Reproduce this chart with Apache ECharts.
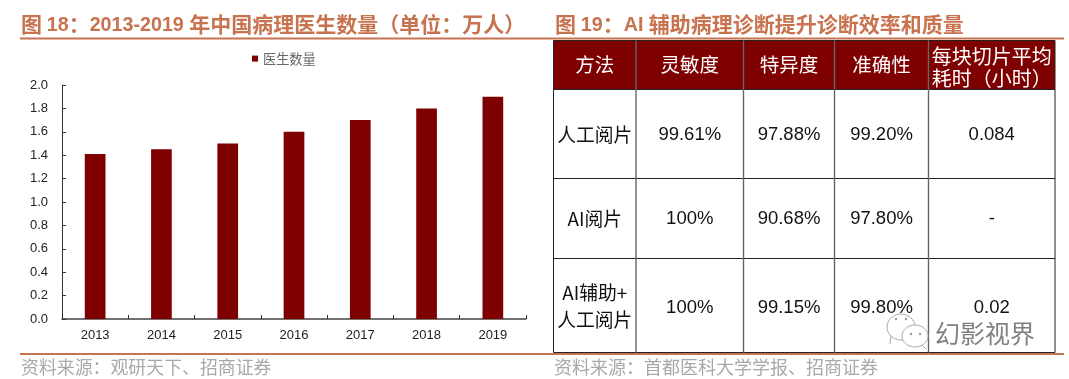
<!DOCTYPE html>
<html><head><meta charset="utf-8"><style>html,body{margin:0;padding:0;background:#fff}#c{width:1069px;height:379px}</style>
<script src="https://cdn.jsdelivr.net/npm/echarts@6/dist/echarts.min.js"></script></head>
<body><div id="c"></div><script>
const years=['2013','2014','2015','2016','2017','2018','2019'];
const doctors=[1.41,1.45,1.5,1.6,1.7,1.8,1.9];
const seriesName='医生数量';
const titleLeft='{c|图 }{l|18}{c|：}{l|2013-2019 }{c|年中国病理医生数量（单位：万人）}';
const titleRight='{c|图 }{l|19}{c|：}{l|AI }{c|辅助病理诊断提升诊断效率和质量}';
const sourceLeft='资料来源：观研天下、招商证券';
const sourceRight='资料来源：首都医科大学学报、招商证券';
const tableHeader=['方法','灵敏度','特异度','准确性','每块切片平均\n耗时（小时）'];
const tableRows=[
 ['人工阅片','99.61%','97.88%','99.20%','0.084'],
 ['AI阅片','100%','90.68%','97.80%','-'],
 ['AI辅助+\n人工阅片','100%','99.15%','99.80%','0.02']];
const colX=[553.5,636,743.5,834.5,928.5,1055];
const rowY=[40.5,89.5,178.5,258.5,352.5];
const CJK='"Noto Sans CJK SC","Liberation Sans",sans-serif';
const ORANGE='#c8734f',RED='#7f0000',GREY='#a8a8a8';
const g=[];
function line(x1,y1,x2,y2,stroke,w,z){g.push({type:'line',silent:true,z:z||5,shape:{x1,y1,x2,y2},style:{stroke,lineWidth:w}});}
function text(t,x,y,o){g.push({type:'text',silent:true,z:8,x,y,style:Object.assign({text:t,font:'15px '+CJK,fill:'#111',align:'center',verticalAlign:'middle'},o||{})});}
const titleRich={c:{font:'bold 21px '+CJK,fill:ORANGE},l:{font:'bold 19.7px "Liberation Sans",sans-serif',fill:ORANGE,padding:[4,0,0,0]}};
text(titleLeft,21,24,{align:'left',rich:titleRich});
text(titleRight,555,24,{align:'left',rich:titleRich});
line(20,38.5,1064,38.5,ORANGE,2);
line(20,354,1064,354,ORANGE,2);
text(sourceLeft,21,367,{font:'17.9px '+CJK,fill:GREY,align:'left'});
text(sourceRight,554,367,{font:'18px '+CJK,fill:GREY,align:'left'});
g.push({type:'rect',silent:true,z:4,shape:{x:colX[0],y:rowY[0],width:colX[5]-colX[0],height:rowY[1]-rowY[0]},style:{fill:RED}});
rowY.forEach((y,i)=>line(colX[0],y,colX[5],y,'#222',1));
colX.forEach((x,i)=>line(x,rowY[0],x,rowY[4],(i==0||i==5)?'#222':'#666',i==0||i==5?1:1.4));
const cx=i=>(colX[i]+colX[i+1])/2;
tableHeader.forEach((h,i)=>text(h,cx(i),(rowY[0]+rowY[1])/2+(i==4?2:0),{font:(i==4?'20px ':'19.5px ')+CJK,fill:'#fff',lineHeight:22}));
tableRows.forEach((r,ri)=>r.forEach((v,ci)=>{
  const cjk=ci==0;
  text(v,cx(ci),(rowY[ri+1]+rowY[ri+2])/2+(ri==2&&ci>0?2:0.5),{font:(cjk?'18.8px ':'18.5px ')+(cjk?CJK:'"Liberation Sans",sans-serif'),fill:'#111',lineHeight:27});
}));
// watermark icon and text
const WM='#aaa';
[[901,327,14,13],[915,336,13,11]].forEach((c,i)=>g.push({type:'ellipse',silent:true,z:9,shape:{cx:c[0],cy:c[1],rx:c[2],ry:c[3]},style:{fill:i?'#fff':'none',stroke:WM,lineWidth:1}}));
[[896,319],[906,319],[911,334],[920,334]].forEach(p=>g.push({type:'circle',silent:true,z:10,shape:{cx:p[0],cy:p[1],r:1.2},style:{fill:'#999'}}));
line(891,336,890,344,WM,1,9);line(922,345,926,349,WM,1,9);
text('幻影视界',985,333,{font:'25px '+CJK,fill:'#808080'});
const chart=echarts.init(document.getElementById('c'),null,{renderer:'canvas'});
chart.setOption({animation:false,backgroundColor:'#fff',
 legend:{show:true,top:52,left:252,itemWidth:6,itemHeight:6,itemGap:4,icon:'rect',data:[seriesName],textStyle:{fontFamily:CJK,fontSize:13.2,color:'#666'},padding:0},
 grid:{left:62,right:543,top:85,bottom:60},
 xAxis:{type:'category',data:years,axisLine:{lineStyle:{color:'#444',width:1.5}},axisTick:{show:true,inside:true,length:4,lineStyle:{color:'#333'}},axisLabel:{fontFamily:'"Liberation Sans"',fontSize:13,color:'#222',margin:10}},
 yAxis:{type:'value',min:0,max:2,interval:0.2,splitLine:{show:false},axisLine:{show:true,lineStyle:{color:'#333',width:1}},axisTick:{show:true,inside:true,length:4,lineStyle:{color:'#333'}},axisLabel:{fontFamily:'"Liberation Sans"',fontSize:13,color:'#222',margin:14,formatter:v=>v.toFixed(1)}},
 series:[{name:seriesName,type:'bar',data:doctors,barWidth:20.7,itemStyle:{color:RED}}],
 graphic:{elements:g}
});
</script></body></html>
